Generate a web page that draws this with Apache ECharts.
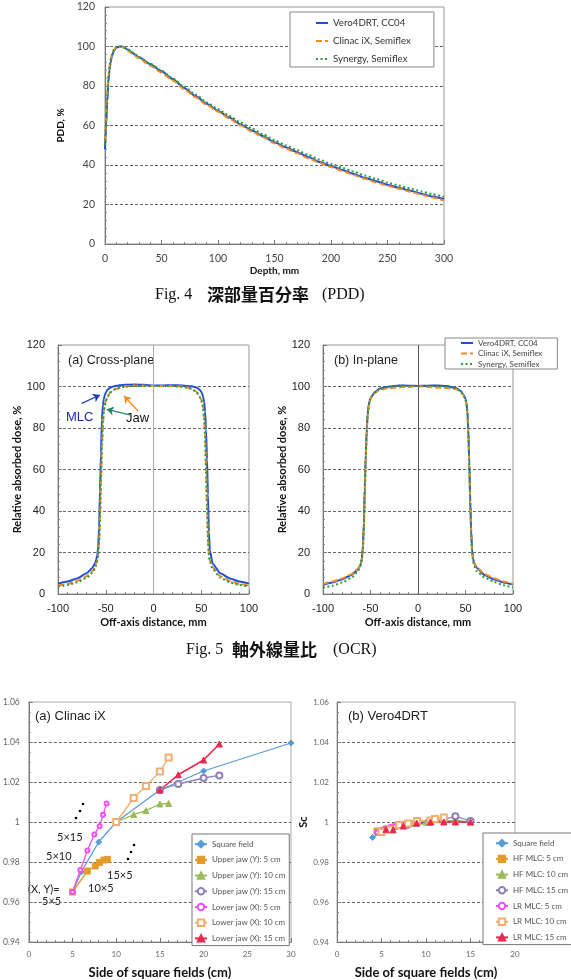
<!DOCTYPE html>
<html>
<head>
<meta charset="utf-8">
<script src="https://cdn.jsdelivr.net/npm/echarts@6/dist/echarts.min.js"></script>
<style>
  html, body { margin: 0; padding: 0; background: #fff; }
  #main { width: 571px; height: 980px; }
</style>
</head>
<body>
<div id="main"></div>
<script>
// ---- Fig.4 PDD ----
const pddDepth   = [0,1,2,3,4,5,6,8,10,13,15,20,25,30,40,50,60,70,80,90,100,110,120,130,140,150,160,170,180,190,200,210,220,230,240,250,260,270,280,290,300];
const pddVero    = [48,60,72,82,88,92,95,98,99.5,100,100,98.5,96.5,94.5,91,87.5,83.5,79,75,71,67.5,64,60.5,57.5,54.5,51.5,49,46.5,44,41.5,39.5,37.5,35.5,33.5,31.8,30,28.5,27,25.5,24,22.7];
const pddClinac  = [52,65,77,85,90,93.5,96,98.5,99.8,100,99.8,98,96,94,90.3,86.8,82.8,78.4,74.4,70.5,67,63.5,60,57,54,51,48.4,45.9,43.4,41,39,37,35,33,31.2,29.5,28,26.5,25,23.5,22];
const pddSynergy = [50,63,75,84,89.5,93,95.5,98.3,99.6,100,100,98.7,96.8,94.8,91.3,87.8,83.8,79.6,75.7,71.8,68.3,64.9,61.5,58.5,55.5,52.6,50,47.5,45.1,42.7,40.6,38.6,36.6,34.7,32.9,31.1,29.6,28.1,26.6,25.2,23.8];

// ---- Fig.5 OCR ----
const ocrX = [-100,-90,-80,-70,-64,-61,-60,-59,-58,-57,-56,-55,-54,-53,-52,-51,-50,-48,-45,-40,-30,-20,-10,0,10,20,30,40,45,48,50,51,52,53,54,55,56,57,58,59,62,70,80,90,100];
const crossVero    = [5,6,7.5,10,12.5,15,16.5,18.5,22,32,50,68,84,91,94,95.8,97,98.5,99.5,100.3,100.8,101,100.8,100.5,100.5,100.6,100.5,100.1,99.5,98.6,97.5,96.5,95,92.5,88,79,65,48,30,21,14.5,10,7.5,6,5];
const crossClinac  = [4,4.8,6.3,8.6,11,13,14.5,16,18.5,24,36,54,71,82,88,91,93,95.3,97.3,98.8,100,100.5,100.4,100.3,100.3,100.3,100,99,97.5,95.5,93.5,92,89.5,85,77,62,44,28,19,16,12.8,8.6,6.3,4.8,4];
const crossSynergy = [3.5,4.3,5.6,7.8,10.2,12.3,14,15.8,18.5,25,38,56,72,82.5,88,90.8,92.8,95.2,97.2,98.7,99.9,100.3,100.3,100.2,100.2,100.2,99.9,98.9,97.3,95.3,93.3,91.8,89.2,84.5,76,60,42,27,18.5,15.5,12,7.8,5.6,4.3,3.5];
const inVero    = [4.5,5.6,7,9.2,11.5,13.5,15,17.5,23,34,51,67,79,87,91,93,94.3,95.8,97.5,99,100,100.5,100.4,100.3,100.4,100.5,100.2,99.3,97.8,96,94,92,88,79,63,45,30,21,17,15,12.5,9.2,7,5.6,4.5];
const inClinac  = [4.8,6,7.5,9.5,11.8,13.5,15,17,22,33,50,66,78,86,90,92.5,94,95.5,97,98.5,99.3,99.6,99.8,100.3,99.8,99.5,99.3,98.8,97.5,95.8,93.5,91.5,87.5,78,62,44,29,20.5,17,15,12.8,9.6,7.6,6,4.8];
const inSynergy = [3,4,5.5,7.8,10.5,12.8,14.5,17,22,33,50,66,78,86,90,92.5,94,95.6,97.3,98.8,99.8,100.3,100.3,100.2,100.3,100.3,100,99.1,97.6,95.8,93.8,91.5,87.5,78,62,44,29,20,16,13.5,11,8,5.8,4.2,3];

// ---- Sc (a) Clinac iX : [side of square field, Sc] ----
const clinacSquare  = [[5,0.965],[6,0.975],[8,0.990],[10,1.000],[15,1.016],[20,1.0255],[30,1.0395]];
const clinacUpper5  = [[5,0.965],[6.7,0.9755],[7.6,0.978],[8.1,0.9798],[8.6,0.981],[9,0.9813]];
const clinacUpper10 = [[10,1.0],[12,1.0037],[13.4,1.0057],[15,1.009],[16,1.0093]];
const clinacUpper15 = [[15,1.016],[17.1,1.019],[20,1.022],[21.8,1.0233]];
const clinacLower5  = [[5,0.965],[5.9,0.976],[6.7,0.9857],[7.5,0.9938],[8.1,0.9979],[8.5,1.0036],[8.9,1.0093]];
const clinacLower10 = [[10,1.0],[12,1.012],[13.4,1.018],[15,1.0252],[16,1.0322]];
const clinacLower15 = [[15,1.016],[17.1,1.0236],[20,1.031],[21.8,1.039]];

// ---- Sc (b) Vero4DRT ----
const veroSquare = [[4,0.9923],[5,0.995],[6,0.9965],[8,0.998],[10,0.9995],[12,1.0005],[15,1.0]];
const veroHF5    = [[4.5,0.9955],[5.5,0.9965],[6.5,0.9978],[7.2,0.9988],[8,0.999]];
const veroHF10   = [[7.2,0.9985],[8.5,0.9992],[10,1.0],[12,1.0005],[13.3,1.0008],[15,1.0]];
const veroHF15   = [[7.6,0.9985],[9,0.9995],[10.5,1.0],[12,1.0012],[13.3,1.0029],[15,1.0005]];
const veroLR5    = [[4.5,0.9948],[5,0.996],[5.5,0.9968],[6,0.9975],[6.5,0.9978]];
const veroLR10   = [[5,0.995],[6,0.9962],[7,0.9985],[8,0.9992],[9,1.0005],[10.5,1.0008],[11,1.0015],[12,1.0022]];
const veroLR15   = [[5.5,0.9962],[6.3,0.9961],[7.45,0.998],[8.95,0.9995],[10.5,1.0],[12,1.0],[13.3,1.0],[15,1.0]];

const pddNames = ['Vero4DRT, CC04', 'Clinac iX, Semiflex', 'Synergy, Semiflex'];
const scNamesA = ['Square field','Upper jaw (Y): 5 cm','Upper jaw (Y): 10 cm','Upper jaw (Y): 15 cm','Lower jaw (X): 5 cm','Lower jaw (X): 10 cm','Lower jaw (X): 15 cm'];
const scNamesB = ['Square field','HF MLC: 5 cm','HF MLC: 10 cm','HF MLC: 15 cm','LR MLC: 5 cm','LR MLC: 10 cm','LR MLC: 15 cm'];

const LATO = 'Lato, "Liberation Sans", sans-serif';
const ARIAL = '"Liberation Sans", Arial, sans-serif';
const SERIF = '"Liberation Serif", "DejaVu Serif", serif';
const CJK = '"Noto Sans CJK JP", sans-serif';

const BLUE = '#1f4fd6', ORANGE = '#f28a26', GREEN = '#2f9a3c';

function zip(xs, ys) { return xs.map((x, i) => [x, ys[i]]); }

function axis(grid, min, max, interval, extra) {
  return Object.assign({
    type: 'value', gridIndex: grid, min: min, max: max, interval: interval,
    axisLine: { show: true, onZero: false, lineStyle: { color: '#777' } },
    axisTick: { show: true, inside: true, length: 4, lineStyle: { color: '#777' } },
    minorTick: { show: true, splitNumber: 5, length: 2, lineStyle: { color: '#888' } },
    splitLine: { show: false },
    nameTextStyle: { fontFamily: LATO, fontWeight: 'bold', color: '#111' }
  }, extra);
}
const dashGrid = { show: true, showMinLine: false, showMaxLine: false, lineStyle: { color: '#666', type: [3, 2], width: 1 } };

function lineSeries(name, data, idx, color, type, w) {
  return {
    name: name, type: 'line', xAxisIndex: idx, yAxisIndex: idx, data: data,
    symbol: 'none', smooth: 0.2, smoothMonotone: 'x',
    lineStyle: { color: color, width: w || 2, type: type },
    itemStyle: { color: color }, z: type === 'solid' ? 3 : 4
  };
}

function scSeries(name, data, idx, st) {
  return {
    name: name, type: 'line', xAxisIndex: idx, yAxisIndex: idx, data: data,
    symbol: st.symbol, symbolSize: st.size, showAllSymbol: true,
    lineStyle: { color: st.color, width: st.width || 1.3 },
    itemStyle: { color: st.color, borderColor: st.color, borderWidth: 1 }
  };
}
const scStyles = [
  { color: '#5b9bd5', symbol: 'diamond', size: 6 },
  { color: '#e49b2a', symbol: 'rect', size: 6 },
  { color: '#9bbb59', symbol: 'triangle', size: 6 },
  { color: '#8f80b8', symbol: 'emptyCircle', size: 6 },
  { color: '#f050f0', symbol: 'emptyCircle', size: 4 },
  { color: '#f2ad6f', symbol: 'emptyRect', size: 6 },
  { color: '#e8284e', symbol: 'triangle', size: 6, width: 1.6 }
];

const scTick = v => (Math.abs(v - 1) < 1e-9 ? '1' : v.toFixed(2));

const chart = echarts.init(document.getElementById('main'), null, { renderer: 'canvas' });

const arrowLine = (a, b, color) => [
  { coord: a, symbol: 'none', lineStyle: { color: color, width: 1.3, type: 'solid' } },
  { coord: b, symbol: 'arrow', symbolSize: 7 }
];

chart.setOption({
  animation: false,
  backgroundColor: '#fff',
  grid: [
    { left: 105, top: 7, width: 339, height: 237, show: true, borderColor: '#999', borderWidth: 1 },
    { left: 58, top: 345, width: 191, height: 249, show: true, borderColor: '#999', borderWidth: 1 },
    { left: 323, top: 345, width: 190, height: 249, show: true, borderColor: '#999', borderWidth: 1 },
    { left: 23, top: 702, width: 268, height: 246, show: true, borderColor: '#aaa', borderWidth: 1 },
    { left: 337, top: 702, width: 178, height: 246, show: true, borderColor: '#aaa', borderWidth: 1 }
  ],
  xAxis: [
    axis(0, 0, 300, 50, { name: 'Depth, mm', nameLocation: 'middle', nameGap: 22,
      nameTextStyle: { fontFamily: LATO, fontWeight: 'bold', fontSize: 10, color: '#111' },
      axisLabel: { fontFamily: LATO, fontSize: 10.5, color: '#444', margin: 9 } }),
    axis(1, -100, 100, 50, { name: 'Off-axis distance, mm', nameLocation: 'middle', nameGap: 23,
      nameTextStyle: { fontFamily: LATO, fontWeight: 'bold', fontSize: 11, color: '#111' },
      axisLabel: { fontFamily: ARIAL, fontSize: 11, color: '#222', margin: 9 } }),
    axis(2, -100, 100, 50, { name: 'Off-axis distance, mm', nameLocation: 'middle', nameGap: 23,
      nameTextStyle: { fontFamily: LATO, fontWeight: 'bold', fontSize: 11, color: '#111' },
      axisLabel: { fontFamily: ARIAL, fontSize: 11, color: '#222', margin: 9 } }),
    axis(3, 0, 30, 5, { name: 'Side of square fields (cm)', nameLocation: 'middle', nameGap: 24,
      nameTextStyle: { fontFamily: LATO, fontWeight: 'bold', fontSize: 13, color: '#111' },
      axisLabel: { fontFamily: LATO, fontSize: 8, color: '#666', margin: 8 } }),
    axis(4, 0, 20, 5, { name: 'Side of square fields (cm)', nameLocation: 'middle', nameGap: 24,
      nameTextStyle: { fontFamily: LATO, fontWeight: 'bold', fontSize: 13, color: '#111' },
      axisLabel: { fontFamily: LATO, fontSize: 8, color: '#666', margin: 8 } })
  ],
  yAxis: [
    axis(0, 0, 120, 20, { name: 'PDD, %', nameLocation: 'middle', nameGap: 27,
      nameTextStyle: { fontFamily: LATO, fontWeight: 'bold', fontSize: 10, color: '#111' },
      splitLine: dashGrid, axisLabel: { fontFamily: LATO, fontSize: 10.5, color: '#444', margin: 10 } }),
    axis(1, 0, 120, 20, { name: 'Relative absorbed dose, %', nameLocation: 'middle', nameGap: 30,
      nameTextStyle: { fontFamily: LATO, fontWeight: 'bold', fontSize: 11, color: '#111' },
      splitLine: dashGrid, axisLabel: { fontFamily: ARIAL, fontSize: 11, color: '#222', margin: 13 } }),
    axis(2, 0, 120, 20, { name: 'Relative absorbed dose, %', nameLocation: 'middle', nameGap: 30,
      nameTextStyle: { fontFamily: LATO, fontWeight: 'bold', fontSize: 11, color: '#111' },
      splitLine: dashGrid, axisLabel: { fontFamily: ARIAL, fontSize: 11, color: '#222', margin: 13 } }),
    axis(3, 0.94, 1.06, 0.02, { minorTick: { show: true, splitNumber: 4, length: 2, lineStyle: { color: '#888' } },
      splitLine: dashGrid, axisLabel: { fontFamily: LATO, fontSize: 8.5, color: '#666', margin: 9, formatter: scTick } }),
    axis(4, 0.94, 1.06, 0.02, { name: 'Sc', nameLocation: 'middle', nameGap: 26,
      nameTextStyle: { fontFamily: LATO, fontWeight: 'bold', fontSize: 11, color: '#111' },
      minorTick: { show: true, splitNumber: 4, length: 2, lineStyle: { color: '#888' } },
      splitLine: dashGrid, axisLabel: { fontFamily: LATO, fontSize: 8, color: '#666', margin: 8, formatter: scTick } })
  ],
  legend: [
    { data: pddNames, orient: 'vertical', left: 290, top: 12, padding: [6, 23, 3, 25],
      itemWidth: 12, itemHeight: 10, itemGap: 8, backgroundColor: '#fff',
      borderColor: '#888', borderWidth: 1, selectedMode: false, itemStyle: { opacity: 0 },
      textStyle: { fontFamily: LATO, fontSize: 9.7, color: '#333' } },
    { data: pddNames, orient: 'vertical', left: 445, top: 338, padding: [1, 15, 1, 15],
      itemWidth: 12, itemHeight: 10, itemGap: 2.5, backgroundColor: '#fff',
      borderColor: '#888', borderWidth: 1, selectedMode: false, itemStyle: { opacity: 0 },
      textStyle: { fontFamily: LATO, fontSize: 8, color: '#444' } },
    { data: scNamesA, orient: 'vertical', left: 192, top: 834, padding: [6, 4, 3, 2],
      itemWidth: 12, itemHeight: 8, itemGap: 7.3, backgroundColor: '#fff',
      borderColor: '#777', borderWidth: 1, selectedMode: false,
      textStyle: { fontFamily: LATO, fontSize: 8, color: '#555' } },
    { data: scNamesB, orient: 'vertical', left: 483, top: 833, padding: [6, 10, 3, 12],
      itemWidth: 12, itemHeight: 8, itemGap: 7.3, backgroundColor: '#fff',
      borderColor: '#777', borderWidth: 1, selectedMode: false,
      textStyle: { fontFamily: LATO, fontSize: 8, color: '#555' } }
  ],
  series: [
    lineSeries(pddNames[0], zip(pddDepth, pddVero), 0, BLUE, 'solid', 2),
    lineSeries(pddNames[1], zip(pddDepth, pddClinac), 0, ORANGE, [6, 3], 2),
    lineSeries(pddNames[2], zip(pddDepth, pddSynergy), 0, GREEN, [2, 2.5], 2),

    Object.assign(lineSeries(pddNames[0], zip(ocrX, crossVero), 1, BLUE, 'solid', 2), {
      markLine: { silent: true, symbol: ['none', 'arrow'], label: { show: false },
        lineStyle: { type: 'solid', width: 1.3 },
        data: [
          arrowLine([-75.2, 91.9], [-56, 95.9], '#1f3fb8'),
          arrowLine([-24.6, 86.3], [-49, 89], '#1f8a6a'),
          arrowLine([-16.2, 88.2], [-30.9, 95.4], '#f28a26')
        ] } }),
    Object.assign(lineSeries(pddNames[1], zip(ocrX, crossClinac), 1, ORANGE, [6, 3], 2), {
      markLine: { silent: true, symbol: 'none', label: { show: false },
        lineStyle: { color: '#aaa', type: 'solid', width: 1 }, data: [{ xAxis: 0 }] } }),
    lineSeries(pddNames[2], zip(ocrX, crossSynergy), 1, GREEN, [2, 2.5], 2),

    lineSeries(pddNames[0], zip(ocrX, inVero), 2, BLUE, 'solid', 2),
    Object.assign(lineSeries(pddNames[1], zip(ocrX, inClinac), 2, ORANGE, [6, 3], 2), {
      markLine: { silent: true, symbol: 'none', label: { show: false },
        lineStyle: { color: '#555', type: 'solid', width: 1 }, data: [{ xAxis: 0 }] } }),
    lineSeries(pddNames[2], zip(ocrX, inSynergy), 2, GREEN, [2, 2.5], 2),

    scSeries(scNamesA[0], clinacSquare, 3, scStyles[0]),
    scSeries(scNamesA[1], clinacUpper5, 3, scStyles[1]),
    scSeries(scNamesA[2], clinacUpper10, 3, scStyles[2]),
    scSeries(scNamesA[3], clinacUpper15, 3, scStyles[3]),
    scSeries(scNamesA[4], clinacLower5, 3, scStyles[4]),
    scSeries(scNamesA[5], clinacLower10, 3, scStyles[5]),
    scSeries(scNamesA[6], clinacLower15, 3, scStyles[6]),

    scSeries(scNamesB[0], veroSquare, 4, scStyles[0]),
    scSeries(scNamesB[1], veroHF5, 4, scStyles[1]),
    scSeries(scNamesB[2], veroHF10, 4, scStyles[2]),
    scSeries(scNamesB[3], veroHF15, 4, scStyles[3]),
    scSeries(scNamesB[4], veroLR5, 4, scStyles[4]),
    scSeries(scNamesB[5], veroLR10, 4, scStyles[5]),
    scSeries(scNamesB[6], veroLR15, 4, scStyles[6])
  ],
  graphic: [
    // captions
    { type: 'text', x: 155, y: 295, style: { text: 'Fig. 4', font: '16px ' + SERIF, fill: '#111', verticalAlign: 'middle' } },
    { type: 'text', x: 207, y: 295, style: { text: '深部量百分率', font: 'bold 17px ' + CJK, fill: '#111', verticalAlign: 'middle' } },
    { type: 'text', x: 322, y: 295, style: { text: '(PDD)', font: '16px ' + SERIF, fill: '#111', verticalAlign: 'middle' } },
    { type: 'text', x: 186, y: 650, style: { text: 'Fig. 5', font: '16px ' + SERIF, fill: '#111', verticalAlign: 'middle' } },
    { type: 'text', x: 232, y: 650, style: { text: '軸外線量比', font: 'bold 17px ' + CJK, fill: '#111', verticalAlign: 'middle' } },
    { type: 'text', x: 333, y: 650, style: { text: '(OCR)', font: '16px ' + SERIF, fill: '#111', verticalAlign: 'middle' } },
    // panel titles
    { type: 'text', x: 68, y: 361, style: { text: '(a) Cross-plane', font: '12.5px ' + ARIAL, fill: '#222', verticalAlign: 'middle' } },
    { type: 'text', x: 334, y: 361, style: { text: '(b) In-plane', font: '12.5px ' + ARIAL, fill: '#222', verticalAlign: 'middle' } },
    { type: 'text', x: 66, y: 417, style: { text: 'MLC', font: '13px ' + ARIAL, fill: '#1f2aa8', verticalAlign: 'middle' } },
    { type: 'text', x: 126, y: 418, style: { text: 'Jaw', font: '13px ' + ARIAL, fill: '#111', verticalAlign: 'middle' } },
    { type: 'text', x: 35, y: 716, style: { text: '(a) Clinac iX', font: '13px ' + ARIAL, fill: '#222', verticalAlign: 'middle' } },
    { type: 'text', x: 348, y: 716, style: { text: '(b) Vero4DRT', font: '13px ' + ARIAL, fill: '#222', verticalAlign: 'middle' } },
    // field-size annotations
    { type: 'text', x: 57, y: 837, style: { text: '5×15', font: '11px ' + LATO, fill: '#222', verticalAlign: 'middle' } },
    { type: 'text', x: 46, y: 856, style: { text: '5×10', font: '11px ' + LATO, fill: '#222', verticalAlign: 'middle' } },
    { type: 'text', x: 107, y: 875, style: { text: '15×5', font: '11px ' + LATO, fill: '#222', verticalAlign: 'middle' } },
    { type: 'text', x: 88, y: 888, style: { text: '10×5', font: '11px ' + LATO, fill: '#222', verticalAlign: 'middle' } },
    { type: 'text', x: 28, y: 889, style: { text: '(X, Y)=', font: '11px ' + LATO, fill: '#222', verticalAlign: 'middle' } },
    { type: 'text', x: 42, y: 901, style: { text: '5×5', font: '11px ' + LATO, fill: '#222', verticalAlign: 'middle' } },
    { type: 'circle', shape: { cx: 76, cy: 818, r: 1.3 }, style: { fill: '#000' } },
    { type: 'circle', shape: { cx: 80, cy: 811, r: 1.3 }, style: { fill: '#000' } },
    { type: 'circle', shape: { cx: 83, cy: 804, r: 1.3 }, style: { fill: '#000' } },
    { type: 'circle', shape: { cx: 128, cy: 859, r: 1.3 }, style: { fill: '#000' } },
    { type: 'circle', shape: { cx: 131, cy: 852, r: 1.3 }, style: { fill: '#000' } },
    { type: 'circle', shape: { cx: 134, cy: 845, r: 1.3 }, style: { fill: '#000' } }
  ]
});
</script>
</body>
</html>
